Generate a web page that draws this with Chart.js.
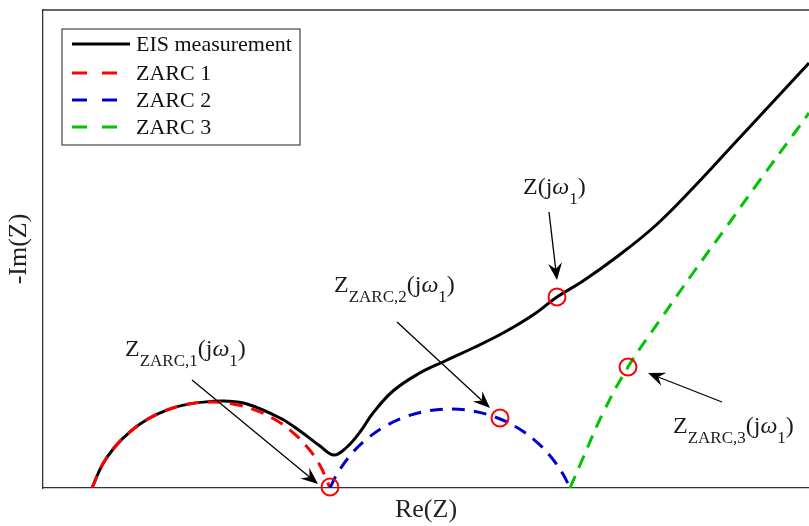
<!DOCTYPE html>
<html>
<head>
<meta charset="utf-8">
<script src="https://cdn.jsdelivr.net/npm/chart.js@4.4.1/dist/chart.umd.min.js"></script>
<style>
  html, body { margin: 0; padding: 0; background: #fff; }
</style>
</head>
<body>
<canvas id="nyquist" width="809" height="526"></canvas>
<script>
// Nyquist plot: measured spectrum and its three ZARC contributions (arbitrary units)
var eisRe = [49, 59.5, 72, 87.5, 105.3, 125.1, 146.2, 168, 182, 204, 237, 257, 277, 291, 304, 317, 330, 350, 375, 402, 430, 460, 490, 514, 540, 575, 612, 650, 689, 728, 766];
var eisIm = [0, 23.4, 41.2, 56.7, 69.2, 78.4, 84.1, 86.5, 87, 84, 70, 57, 42, 33, 41, 56, 75, 97, 114, 127, 140, 155, 173, 191, 207, 232, 262, 300, 342, 384, 425];

var zarc1Re = [49, 59.5, 72, 87.5, 105.3, 125.1, 146.2, 168, 189.8, 210.9, 230.7, 248.5, 264, 276.5, 287];
var zarc1Im = [0, 23.4, 41.2, 56.7, 69.2, 78.4, 84.1, 86, 84.1, 78.4, 69.2, 56.7, 41.2, 23.4, 0];

var zarc2Re = [287, 293.9, 307, 323.1, 341.7, 362.3, 384.3, 407, 429.7, 451.7, 472.3, 490.9, 507, 520.1, 527];
var zarc2Im = [0, 13.7, 32.3, 48.4, 61.5, 71.1, 77, 79, 77, 71.1, 61.5, 48.4, 32.3, 13.7, 0];

var zarc3Re = [527, 540, 560, 585, 617, 650, 684, 717, 750, 766];
var zarc3Im = [0, 30, 75, 121, 168, 215, 262, 308, 353, 375];

// impedance at w1 for each curve
var markRe = [287, 457, 514, 585];
var markIm = [1, 70, 191, 121];

var seriesNames = ['EIS measurement', 'ZARC 1', 'ZARC 2', 'ZARC 3'];

function pairs(xs, ys) {
    return xs.map(function(x, i) { return { x: x, y: ys[i] }; });
}

var SERIF = '"Liberation Serif", "Times New Roman", serif';

// callout texts: parts are [text, size, baseline shift, italic]
var callouts = [
    { at: [82, 132], parts: [['Z', 24, 0], ['ZARC,1', 17, 10], ['(j', 24, 0], ['\u03c9', 24, 0, true], ['1', 17, 10], [')', 24, 0]],
      from: [149, 108], to: [275, 4] },
    { at: [291, 196], parts: [['Z', 24, 0], ['ZARC,2', 17, 10], ['(j', 24, 0], ['\u03c9', 24, 0, true], ['1', 17, 10], [')', 24, 0]],
      from: [354, 166], to: [447, 80] },
    { at: [480, 294], parts: [['Z(j', 24, 0], ['\u03c9', 24, 0, true], ['1', 17, 10], [')', 24, 0]],
      from: [506, 276], to: [514, 208] },
    { at: [630, 55], parts: [['Z', 24, 0], ['ZARC,3', 17, 10], ['(j', 24, 0], ['\u03c9', 24, 0, true], ['1', 17, 10], [')', 24, 0]],
      from: [679, 86], to: [605, 115] }
];

function drawArrow(ctx, x0, y0, x1, y1) {
    var ang = Math.atan2(y1 - y0, x1 - x0);
    var len = 17, half = 7, notch = 6;
    ctx.save();
    ctx.strokeStyle = '#000';
    ctx.fillStyle = '#000';
    ctx.lineWidth = 1.3;
    ctx.beginPath();
    ctx.moveTo(x0, y0);
    ctx.lineTo(x1 - Math.cos(ang) * (len - notch), y1 - Math.sin(ang) * (len - notch));
    ctx.stroke();
    ctx.translate(x1, y1);
    ctx.rotate(ang);
    ctx.beginPath();
    ctx.moveTo(0, 0);
    ctx.lineTo(-len, -half);
    ctx.lineTo(-len + notch, 0);
    ctx.lineTo(-len, half);
    ctx.closePath();
    ctx.fill();
    ctx.restore();
}

var decorations = {
    id: 'decorations',
    afterDatasetsDraw: function(chart) {
        var ctx = chart.ctx, xs = chart.scales.x, ys = chart.scales.y, area = chart.chartArea;

        // top frame line
        ctx.save();
        ctx.strokeStyle = '#333';
        ctx.lineWidth = 1.3;
        ctx.beginPath();
        ctx.moveTo(area.left, area.top);
        ctx.lineTo(area.right, area.top);
        ctx.stroke();
        ctx.restore();

        callouts.forEach(function(c) {
            drawArrow(ctx, xs.getPixelForValue(c.from[0]), ys.getPixelForValue(c.from[1]),
                xs.getPixelForValue(c.to[0]), ys.getPixelForValue(c.to[1]));
            var x = xs.getPixelForValue(c.at[0]), y = ys.getPixelForValue(c.at[1]);
            ctx.save();
            ctx.fillStyle = '#1a1a1a';
            ctx.textBaseline = 'alphabetic';
            c.parts.forEach(function(p) {
                ctx.font = (p[3] ? 'italic ' : '') + p[1] + 'px ' + SERIF;
                ctx.fillText(p[0], x, y + p[2]);
                x += ctx.measureText(p[0]).width;
            });
            ctx.restore();
        });

        // legend box
        ctx.save();
        ctx.fillStyle = '#fff';
        ctx.fillRect(62, 29, 238, 116);
        ctx.strokeStyle = '#444';
        ctx.lineWidth = 1.2;
        ctx.strokeRect(62, 29, 238, 116);
        var rows = [44, 73, 100, 127];
        chart.data.datasets.slice(0, 4).forEach(function(ds, i) {
            ctx.strokeStyle = ds.borderColor;
            ctx.lineWidth = 3;
            ctx.setLineDash(ds.borderDash ? [15, 15] : []);
            ctx.beginPath();
            ctx.moveTo(72, rows[i]);
            ctx.lineTo(130, rows[i]);
            ctx.stroke();
            ctx.setLineDash([]);
            ctx.fillStyle = '#111';
            ctx.font = '22px ' + SERIF;
            ctx.textBaseline = 'middle';
            ctx.fillText(ds.label, 136, rows[i] + 1);
        });
        ctx.restore();
    }
};

var ctx = document.getElementById('nyquist');
var nyquist = new Chart(ctx, {
    type: 'scatter',
    data: {
        datasets: [{
            label: seriesNames[0],
            data: pairs(eisRe, eisIm),
            showLine: true,
            borderColor: '#000',
            borderWidth: 3,
            pointRadius: 0,
            tension: 0.4,
            order: 4
        }, {
            label: seriesNames[1],
            data: pairs(zarc1Re, zarc1Im),
            showLine: true,
            borderColor: '#ff0000',
            borderWidth: 3,
            borderDash: [13, 9],
            pointRadius: 0,
            tension: 0.4,
            order: 3
        }, {
            label: seriesNames[2],
            data: pairs(zarc2Re, zarc2Im),
            showLine: true,
            borderColor: '#0000cc',
            borderWidth: 3,
            borderDash: [13, 9],
            pointRadius: 0,
            tension: 0.4,
            order: 2
        }, {
            label: seriesNames[3],
            data: pairs(zarc3Re, zarc3Im),
            showLine: true,
            borderColor: '#00c400',
            borderWidth: 3,
            borderDash: [13, 9],
            pointRadius: 0,
            tension: 0.4,
            order: 1
        }, {
            label: 'w1',
            data: pairs(markRe, markIm),
            showLine: false,
            pointRadius: 8.5,
            pointBorderWidth: 2,
            pointBorderColor: '#ff0000',
            pointBackgroundColor: 'rgba(0,0,0,0)',
            clip: false,
            order: 0
        }]
    },
    options: {
        responsive: false,
        animation: false,
        layout: { autoPadding: false, padding: { top: 10, right: 0, left: 0, bottom: 0 } },
        plugins: {
            legend: { display: false },
            tooltip: { enabled: false }
        },
        scales: {
            x: {
                type: 'linear',
                min: 0,
                max: 766,
                ticks: { display: false },
                grid: { display: false },
                border: { color: '#333', width: 1.3 },
                title: { display: true, text: 'Re(Z)', color: '#222', padding: 0,
                    font: { family: SERIF, size: 26 } },
                afterFit: function(scale) { scale.height = 38; }
            },
            y: {
                type: 'linear',
                min: 0,
                max: 478,
                ticks: { display: false },
                grid: { display: false },
                border: { color: '#333', width: 1.3 },
                title: { display: true, text: '-Im(Z)', color: '#222', padding: { top: 4 },
                    font: { family: SERIF, size: 26 } },
                afterFit: function(scale) { scale.width = 43; }
            }
        }
    },
    plugins: [decorations]
});
</script>
</body>
</html>
